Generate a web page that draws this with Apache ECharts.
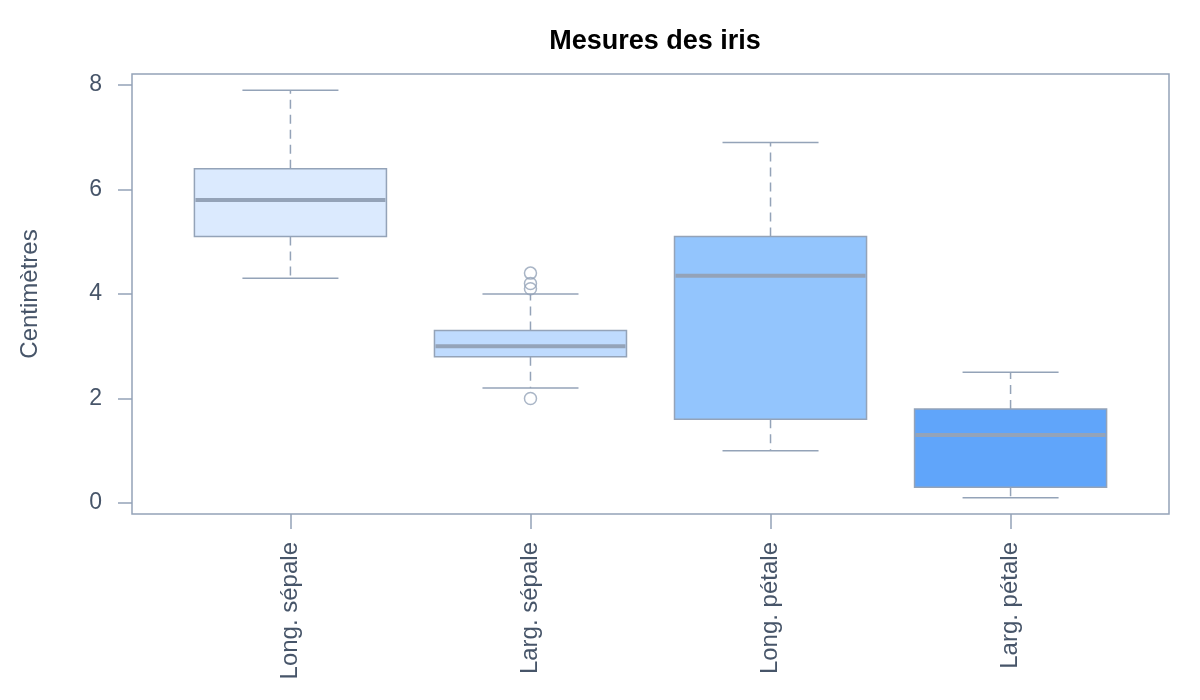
<!DOCTYPE html>
<html>
<head>
<meta charset="utf-8">
<script src="https://cdn.jsdelivr.net/npm/echarts@6/dist/echarts.min.js"></script>
<style>html,body{margin:0;padding:0;background:#fff}#c{width:1200px;height:700px}</style>
</head>
<body>
<div id="c"></div>
<script>
const categories = ['Long. sépale', 'Larg. sépale', 'Long. pétale', 'Larg. pétale'];
const whiskerLow = [4.3, 2.2, 1.0, 0.1];
const q1Values = [5.1, 2.8, 1.6, 0.3];
const medianValues = [5.8, 3.0, 4.35, 1.3];
const q3Values = [6.4, 3.3, 5.1, 1.8];
const whiskerHigh = [7.9, 4.0, 6.9, 2.5];
const outlierCategory = [2, 2, 2, 2];
const outlierValues = [4.4, 4.1, 4.2, 2.0];
const yTicks = [0, 2, 4, 6, 8];

const boxColors = ['#dbeafe', '#bfdbfe', '#93c5fd', '#60a5fa'];
const lineColor = '#94a3b8';
const textColor = '#475569';
const font = '"Liberation Sans", Arial, Helvetica, sans-serif';

const boxData = categories.map((c, i) => [i + 1, whiskerLow[i], q1Values[i], medianValues[i], q3Values[i], whiskerHigh[i]]);
const outlierData = outlierValues.map((v, i) => [outlierCategory[i], v]);

const chart = echarts.init(document.getElementById('c'));
chart.setOption({
  animation: false,
  title: {
    text: 'Mesures des iris',
    left: 650, top: 23, textAlign: 'center',
    textStyle: { fontFamily: font, fontWeight: 'bold', fontSize: 27, color: '#000' }
  },
  grid: {
    left: 132, right: 31, top: 74, bottom: 186, containLabel: false,
    show: true, borderColor: lineColor, borderWidth: 1.5, backgroundColor: 'transparent'
  },
  xAxis: {
    type: 'value', min: 0.34, max: 4.66,
    axisLine: { show: false, onZero: false },
    splitLine: { show: false },
    axisTick: { show: true, inside: false, length: 15, customValues: [1, 2, 3, 4], lineStyle: { color: lineColor, width: 1.5 } },
    axisLabel: {
      customValues: [1, 2, 3, 4], rotate: 90, margin: 28,
      formatter: v => categories[Math.round(v) - 1] || '',
      fontFamily: font, fontSize: 24, color: textColor
    }
  },
  yAxis: {
    type: 'value', min: -0.212, max: 8.212,
    name: 'Centimètres', nameLocation: 'middle', nameRotate: 90, nameGap: 90,
    nameTextStyle: { fontFamily: font, fontSize: 24, color: textColor },
    axisLine: { show: false, onZero: false },
    splitLine: { show: false },
    axisTick: { show: true, inside: false, length: 14, customValues: yTicks, lineStyle: { color: lineColor, width: 1.5 } },
    axisLabel: {
      customValues: yTicks, margin: 30,
      fontFamily: font, fontSize: 23, color: textColor
    }
  },
  series: [
    {
      type: 'custom',
      data: boxData,
      encode: { x: 0, y: [1, 2, 3, 4, 5] },
      renderItem: function (params, api) {
        const x = api.value(0);
        const pLo = api.coord([x, api.value(1)]);
        const pQ1 = api.coord([x, api.value(2)]);
        const pMed = api.coord([x, api.value(3)]);
        const pQ3 = api.coord([x, api.value(4)]);
        const pHi = api.coord([x, api.value(5)]);
        const bw = api.size([0.8, 0])[0];
        const cw = api.size([0.4, 0])[0];
        const cx = pMed[0];
        const solid = { stroke: lineColor, lineWidth: 1.5 };
        const dashed = { stroke: lineColor, lineWidth: 1.5, lineDash: [9, 6] };
        return {
          type: 'group',
          children: [
            { type: 'line', shape: { x1: cx, y1: pQ1[1], x2: cx, y2: pLo[1] }, style: dashed },
            { type: 'line', shape: { x1: cx, y1: pQ3[1], x2: cx, y2: pHi[1] }, style: dashed },
            { type: 'line', shape: { x1: cx - cw / 2, y1: pLo[1], x2: cx + cw / 2, y2: pLo[1] }, style: solid },
            { type: 'line', shape: { x1: cx - cw / 2, y1: pHi[1], x2: cx + cw / 2, y2: pHi[1] }, style: solid },
            { type: 'rect', shape: { x: cx - bw / 2, y: pQ3[1], width: bw, height: pQ1[1] - pQ3[1] },
              style: { fill: boxColors[params.dataIndex], stroke: lineColor, lineWidth: 1.5 } },
            { type: 'line', shape: { x1: cx - bw / 2 + 1, y1: pMed[1], x2: cx + bw / 2 - 1, y2: pMed[1] },
              style: { stroke: lineColor, lineWidth: 4 } }
          ]
        };
      }
    },
    {
      type: 'scatter',
      data: outlierData,
      symbol: 'circle',
      symbolSize: 12,
      itemStyle: { color: 'rgba(255,255,255,0)', borderColor: lineColor, borderWidth: 1.5 }
    }
  ]
});
</script>
</body>
</html>
